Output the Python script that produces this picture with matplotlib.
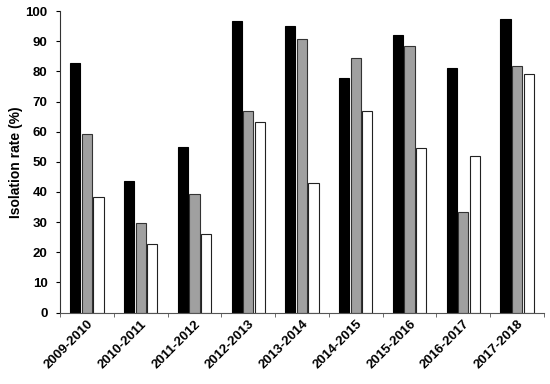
import matplotlib; matplotlib.use("Agg")
import matplotlib.pyplot as plt
import numpy as np

plt.rcParams["font.family"] = ["Liberation Sans", "DejaVu Sans"]

seasons = ["2009-2010", "2010-2011", "2011-2012", "2012-2013", "2013-2014",
           "2014-2015", "2015-2016", "2016-2017", "2017-2018"]
black_vals = [82.7, 43.6, 55.0, 96.7, 95.1, 77.9, 92.0, 81.3, 97.3]
gray_vals = [59.1, 29.6, 39.2, 66.8, 90.6, 84.6, 88.3, 33.4, 81.9]
white_vals = [38.5, 22.7, 26.1, 63.2, 43.0, 66.8, 54.6, 52.0, 79.2]

fig = plt.figure(figsize=(5.5, 3.84), dpi=100)
ax = fig.add_axes([0.109, 0.186, 0.88, 0.785])

x = np.arange(len(seasons))
w, step = 0.19, 0.215
ax.bar(x - step, black_vals, w, color="black", edgecolor="black", lw=0.8)
ax.bar(x, gray_vals, w, color="#a0a0a0", edgecolor="#333333", lw=0.8)
ax.bar(x + step, white_vals, w, color="white", edgecolor="#222222", lw=0.8)

ax.set_xlim(-0.5, len(seasons) - 0.5)
ax.set_ylim(0, 100)
ax.set_yticks(range(0, 101, 10))
ax.set_xticks(x)
ax.set_xticklabels(seasons, rotation=45, ha="right", rotation_mode="anchor",
                   fontsize=9.5, fontweight="bold")
ax.set_xticks(np.arange(-0.5, len(seasons)), minor=True)
ax.tick_params(axis="x", which="major", length=0, pad=4)
ax.tick_params(axis="x", which="minor", length=3, direction="out", color="#555555")
ax.tick_params(axis="y", length=3, direction="out", labelsize=9.5, pad=6)
for lab in ax.get_yticklabels():
    lab.set_fontweight("bold")
ax.set_ylabel("Isolation rate (%)", fontsize=10, fontweight="bold", labelpad=2)

for s in ["top", "right"]:
    ax.spines[s].set_visible(False)
ax.spines["left"].set_color("#333333")
ax.spines["bottom"].set_color("#555555")

fig.savefig("out.png", dpi=100)
